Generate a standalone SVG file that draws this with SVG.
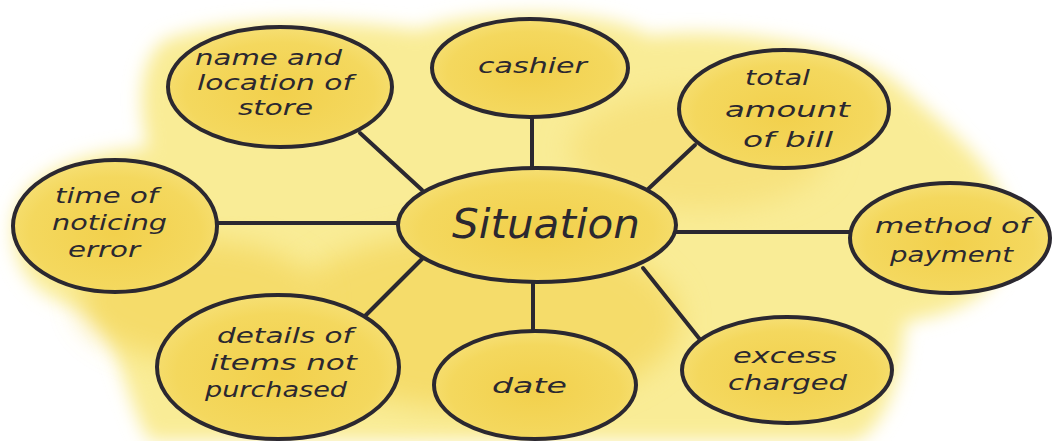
<svg xmlns="http://www.w3.org/2000/svg" width="1052" height="441" viewBox="0 0 1052 441">
  <defs>
    <filter id="blur" x="-10%" y="-10%" width="120%" height="120%">
      <feGaussianBlur stdDeviation="9"/>
    </filter>
    <filter id="blur2" x="-20%" y="-20%" width="140%" height="140%">
      <feGaussianBlur stdDeviation="14"/>
    </filter>
    <radialGradient id="fillG" cx="50%" cy="55%" r="60%">
      <stop offset="0" stop-color="#f2d04c"/>
      <stop offset="0.7" stop-color="#f4d85e"/>
      <stop offset="1" stop-color="#f7e27c"/>
    </radialGradient>
  </defs>
  <style>
    .node { fill: url(#fillG); stroke: #2b2830; stroke-width: 4; }
    .conn line { stroke: #2b2830; stroke-width: 4; stroke-linecap: round; }
    .lbl { font-family: "DejaVu Sans", "Liberation Sans", sans-serif; font-style: italic; font-size: 21px; fill: #2b2830; }
    .big { font-size: 40px; }
  </style>
  <rect width="1052" height="441" fill="#ffffff"/>
  <g id="wash">
    <path filter="url(#blur)" fill="#f9ec96" d="M165,40 C250,12 350,22 420,30 C470,10 600,6 650,36 C700,28 850,36 905,90 C945,128 1005,168 1010,230 C1010,292 962,312 905,322 C902,382 882,430 855,441 L150,441 C125,400 115,330 95,312 C38,302 10,270 14,222 C20,168 100,150 148,148 C138,108 138,60 165,40 Z"/>
    <ellipse filter="url(#blur2)" fill="#f5dc6a" cx="480" cy="320" rx="200" ry="90"/>
    <ellipse filter="url(#blur2)" fill="#f5dc6a" cx="200" cy="300" rx="120" ry="60"/>
    <ellipse filter="url(#blur2)" fill="#f7e27e" cx="700" cy="150" rx="130" ry="60"/>
  </g>
  <g id="connectors" class="conn">
    <line x1="360" y1="133" x2="422" y2="190"/>
    <line x1="532" y1="116" x2="532" y2="170"/>
    <line x1="695" y1="145" x2="645" y2="192"/>
    <line x1="215" y1="223" x2="400" y2="223"/>
    <line x1="675" y1="232" x2="852" y2="232"/>
    <line x1="423" y1="258" x2="365" y2="316"/>
    <line x1="533" y1="281" x2="533" y2="332"/>
    <line x1="643" y1="268" x2="702" y2="342"/>
  </g>
  <g id="n-situation">
    <ellipse class="node" cx="537" cy="225" rx="139" ry="57"/>
    <text class="lbl big" x="452" y="238" textLength="188" lengthAdjust="spacingAndGlyphs">Situation</text>
  </g>
  <g id="n-name">
    <ellipse class="node" cx="280" cy="87" rx="112" ry="60"/>
    <text class="lbl" x="195" y="65" textLength="147" lengthAdjust="spacingAndGlyphs">name and</text>
    <text class="lbl" x="197" y="90" textLength="156" lengthAdjust="spacingAndGlyphs">location of</text>
    <text class="lbl" x="238" y="115" textLength="75" lengthAdjust="spacingAndGlyphs">store</text>
  </g>
  <g id="n-cashier">
    <ellipse class="node" cx="530" cy="68" rx="98" ry="49"/>
    <text class="lbl" x="478" y="73" textLength="109" lengthAdjust="spacingAndGlyphs">cashier</text>
  </g>
  <g id="n-total">
    <ellipse class="node" cx="784" cy="109" rx="105" ry="59"/>
    <text class="lbl" x="745" y="85" textLength="65" lengthAdjust="spacingAndGlyphs">total</text>
    <text class="lbl" x="725" y="117" textLength="125" lengthAdjust="spacingAndGlyphs">amount</text>
    <text class="lbl" x="743" y="147" textLength="90" lengthAdjust="spacingAndGlyphs">of bill</text>
  </g>
  <g id="n-time">
    <ellipse class="node" cx="115" cy="226" rx="102" ry="66"/>
    <text class="lbl" x="55" y="203" textLength="103" lengthAdjust="spacingAndGlyphs">time of</text>
    <text class="lbl" x="52" y="230" textLength="115" lengthAdjust="spacingAndGlyphs">noticing</text>
    <text class="lbl" x="68" y="257" textLength="72" lengthAdjust="spacingAndGlyphs">error</text>
  </g>
  <g id="n-method">
    <ellipse class="node" cx="950" cy="238" rx="100" ry="55"/>
    <text class="lbl" x="875" y="233" textLength="155" lengthAdjust="spacingAndGlyphs">method of</text>
    <text class="lbl" x="890" y="262" textLength="123" lengthAdjust="spacingAndGlyphs">payment</text>
  </g>
  <g id="n-details">
    <ellipse class="node" cx="278" cy="367" rx="121" ry="72"/>
    <text class="lbl" x="217" y="343" textLength="136" lengthAdjust="spacingAndGlyphs">details of</text>
    <text class="lbl" x="210" y="370" textLength="147" lengthAdjust="spacingAndGlyphs">items not</text>
    <text class="lbl" x="205" y="397" textLength="142" lengthAdjust="spacingAndGlyphs">purchased</text>
  </g>
  <g id="n-date">
    <ellipse class="node" cx="535" cy="385" rx="101" ry="54"/>
    <text class="lbl" x="492" y="393" textLength="75" lengthAdjust="spacingAndGlyphs">date</text>
  </g>
  <g id="n-excess">
    <ellipse class="node" cx="787" cy="370" rx="105" ry="53"/>
    <text class="lbl" x="733" y="363" textLength="104" lengthAdjust="spacingAndGlyphs">excess</text>
    <text class="lbl" x="728" y="390" textLength="119" lengthAdjust="spacingAndGlyphs">charged</text>
  </g>
</svg>
